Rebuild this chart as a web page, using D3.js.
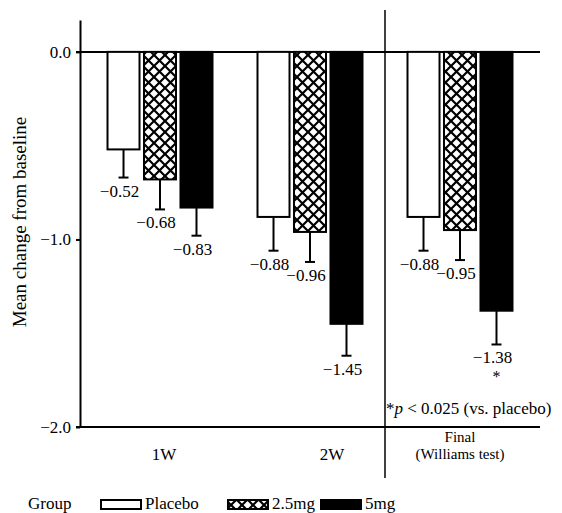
<!DOCTYPE html>
<html>
<head>
<meta charset="utf-8">
<script src="https://cdn.jsdelivr.net/npm/d3@7"></script>
<style>
  body { margin: 0; background: #fff; }
  svg text { font-family: "Liberation Serif", "Times New Roman", serif; fill: #000; }
</style>
</head>
<body>
<div id="chart"></div>
<script>
// data
const groups = ["1W", "2W", "Final"];
const groupLabels = [["1W"], ["2W"], ["Final", "(Williams test)"]];
const series = ["Placebo", "2.5mg", "5mg"];
const means = {
  "1W":    [-0.52, -0.68, -0.83],
  "2W":    [-0.88, -0.96, -1.45],
  "Final": [-0.88, -0.95, -1.38]
};
const errors = {
  "1W":    [0.15, 0.16, 0.15],
  "2W":    [0.18, 0.16, 0.17],
  "Final": [0.18, 0.16, 0.18]
};
const significant = { "Final": [false, false, true] };
const yTicks = [0, -1, -2];

const width = 562, height = 513;
const svg = d3.select("#chart").append("svg")
  .attr("width", width)
  .attr("height", height);

// crosshatch pattern for the 2.5mg bars
const defs = svg.append("defs");
const pat = defs.append("pattern")
  .attr("id", "xhatch")
  .attr("patternUnits", "userSpaceOnUse")
  .attr("width", 11).attr("height", 11);
pat.append("rect").attr("width", 11).attr("height", 11).attr("fill", "#fff");
pat.append("path")
  .attr("d", "M0,0L11,11M11,0L0,11M-1,10L1,12M10,-1L12,1")
  .attr("stroke", "#000").attr("stroke-width", 2.2);

const fills = {
  "Placebo": "#fff",
  "2.5mg": "url(#xhatch)",
  "5mg": "#000"
};

const x = d3.scaleBand()
  .domain(groups)
  .range([80, 540])
  .paddingInner(0.2867)
  .paddingOuter(0.1767);

const xs = d3.scaleBand()
  .domain(series)
  .range([0, x.bandwidth()])
  .paddingInner(0.068);

const y = d3.scaleLinear()
  .domain([-2, 0.17])
  .range([427, 20]);

// y axis
const yAxis = svg.append("g")
  .attr("transform", "translate(80,0)")
  .call(d3.axisLeft(y).tickValues(yTicks).tickSize(4).tickSizeOuter(0).tickFormat(d3.format(".1f")));
yAxis.select(".domain").attr("stroke-width", 2);
yAxis.selectAll(".tick line").attr("stroke-width", 2);
yAxis.selectAll(".tick text")
  .attr("x", -9)
  .style("font-size", "17px");

svg.append("text")
  .attr("transform", "translate(26,222) rotate(-90)")
  .attr("text-anchor", "middle")
  .style("font-size", "19px")
  .text("Mean change from baseline");

// bottom axis with group labels
const xAxis = svg.append("g")
  .attr("transform", `translate(0,${y(-2)})`)
  .call(d3.axisBottom(x).tickSize(0).tickSizeOuter(0).tickFormat(""));
xAxis.select(".domain").attr("stroke-width", 2).attr("d", "M76,0H540");

const labelShift = { "1W": 4, "2W": 22, "Final": 0 };
xAxis.selectAll(".tick").each(function(g, i) {
  const lines = groupLabels[i];
  lines.forEach((line, j) => {
    d3.select(this).append("text")
      .attr("text-anchor", "middle")
      .attr("x", labelShift[g])
      .attr("y", lines.length > 1 ? 15 + j * 17 : 33)
      .style("font-size", lines.length > 1 ? "15px" : "17px")
      .text(line);
  });
});

// zero line
svg.append("line")
  .attr("x1", 76).attr("x2", 540)
  .attr("y1", y(0)).attr("y2", y(0))
  .attr("stroke", "#000").attr("stroke-width", 2);

// separator between 2W and the final analysis
const sepX = (x("2W") + x.bandwidth() + x("Final")) / 2;
svg.append("line")
  .attr("x1", sepX).attr("x2", sepX)
  .attr("y1", 10).attr("y2", 478)
  .attr("stroke", "#000").attr("stroke-width", 1.5);

// bars, error bars and value labels
const fmt = d3.format(".2f");
groups.forEach(g => {
  const gx = x(g);
  series.forEach((s, i) => {
    const v = means[g][i];
    const e = errors[g][i];
    const bx = gx + xs(s);
    const bw = xs.bandwidth();
    const cx = bx + bw / 2;

    svg.append("line")
      .attr("x1", cx).attr("x2", cx)
      .attr("y1", y(v)).attr("y2", y(v - e))
      .attr("stroke", "#000").attr("stroke-width", 2);
    svg.append("line")
      .attr("x1", cx - 5).attr("x2", cx + 5)
      .attr("y1", y(v - e)).attr("y2", y(v - e))
      .attr("stroke", "#000").attr("stroke-width", 2);

    svg.append("rect")
      .attr("x", bx + 1).attr("y", y(0))
      .attr("width", bw - 2)
      .attr("height", y(v) - y(0))
      .attr("fill", fills[s])
      .attr("stroke", "#000")
      .attr("stroke-width", 2);

    svg.append("text")
      .attr("x", cx - 4)
      .attr("y", y(v - e) + 19)
      .attr("text-anchor", "middle")
      .style("font-size", "17px")
      .text(fmt(v));

    if (significant[g] && significant[g][i]) {
      svg.append("text")
        .attr("x", cx)
        .attr("y", y(v - e) + 38)
        .attr("text-anchor", "middle")
        .style("font-size", "16px")
        .text("*");
    }
  });
});

// footnote
const note = svg.append("text")
  .attr("x", sepX + 1)
  .attr("y", y(-2) - 13)
  .style("font-size", "17px");
note.append("tspan").text("*");
note.append("tspan").style("font-style", "italic").text("p");
note.append("tspan").text(" < 0.025 (vs. placebo)");

// legend
const legend = svg.append("g").attr("transform", "translate(0,505)");
legend.append("text").attr("x", 28).attr("y", 4).style("font-size", "17px").text("Group");
const legendX = [101, 228, 321];
series.forEach((s, i) => {
  legend.append("rect")
    .attr("x", legendX[i]).attr("y", -5)
    .attr("width", 40).attr("height", 9)
    .attr("fill", fills[s])
    .attr("stroke", "#000").attr("stroke-width", 2);
  legend.append("text")
    .attr("x", legendX[i] + 44).attr("y", 4)
    .style("font-size", "17px")
    .text(s);
});
</script>
</body>
</html>
